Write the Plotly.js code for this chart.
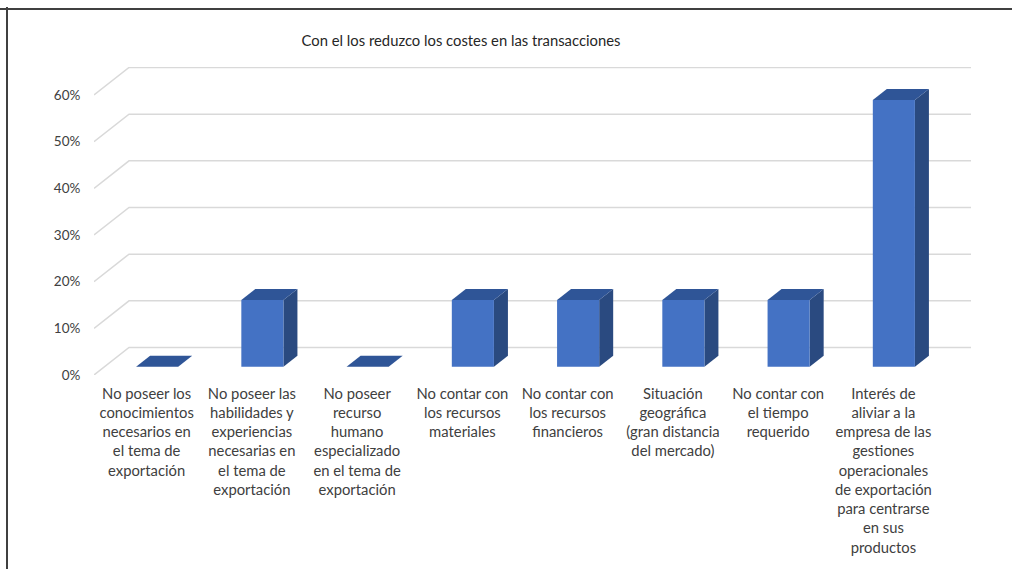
<!DOCTYPE html>
<html>
<head>
<meta charset="utf-8">
<script src="https://cdn.plot.ly/plotly-3.0.1.min.js"></script>
<style>html,body{margin:0;padding:0;background:#fff;}#chart{width:1012px;height:569px;}</style>
</head>
<body>
<div id="chart"></div>
<script>
// ---- data ----
const chartTitle = "Con el los reduzco los costes en las transacciones";
const categories = [
  "No poseer los<br>conocimientos<br>necesarios en<br>el tema de<br>exportación",
  "No poseer las<br>habilidades y<br>experiencias<br>necesarias en<br>el tema de<br>exportación",
  "No poseer<br>recurso<br>humano<br>especializado<br>en el tema de<br>exportación",
  "No contar con<br>los recursos<br>materiales",
  "No contar con<br>los recursos<br>financieros",
  "Situación<br>geográfica<br>(gran distancia<br>del mercado)",
  "No contar con<br>el tiempo<br>requerido",
  "Interés de<br>aliviar a la<br>empresa de las<br>gestiones<br>operacionales<br>de exportación<br>para centrarse<br>en sus<br>productos"
];
const values = [0, 0.1429, 0, 0.1429, 0.1429, 0.1429, 0.1429, 0.5714];
const yTickVals = [0, 0.1, 0.2, 0.3, 0.4, 0.5, 0.6];
const yTickText = ["0%", "10%", "20%", "30%", "40%", "50%", "60%"];

// ---- 3D look (styles / geometry constants) ----
const DX = 0.3327;   // depth offset in category units
const DY = 0.059;    // depth offset in value units
const F0 = 0.3, F1 = 0.7; // bar front / back depth fractions
const HW = 0.2;      // half bar width
const cFront = "#4472C4", cTop = "#2F5597", cSide = "#2A4A80", cGrid = "#D9D9D9";

const xs = categories.map((c, i) => i);
const shapes = [];
// perspective gridlines
yTickVals.forEach(v => {
  shapes.push({type: "path", xref: "x", yref: "y", layer: "below",
    path: `M ${-0.5},${v} L ${-0.5 + DX},${v + DY} L ${xs.length - 0.5 + DX},${v + DY}`,
    line: {color: cGrid, width: 1.5}});
});
// side and top faces
values.forEach((v, i) => {
  const xlf = i + F0 * DX - HW, xrf = i + F0 * DX + HW;
  const xlb = i + F1 * DX - HW, xrb = i + F1 * DX + HW;
  const yb0 = F0 * DY, yb1 = F1 * DY;
  const yt0 = v + F0 * DY, yt1 = v + F1 * DY;
  if (v > 0) {
    shapes.push({type: "path", xref: "x", yref: "y", layer: "below",
      path: `M ${xrf},${yb0} L ${xrf},${yt0} L ${xrb},${yt1} L ${xrb},${yb1} Z`,
      fillcolor: cSide, line: {width: 0}});
  }
  shapes.push({type: "path", xref: "x", yref: "y", layer: "below",
    path: `M ${xlf},${yt0} L ${xrf},${yt0} L ${xrb},${yt1} L ${xlb},${yt1} Z`,
    fillcolor: cTop, line: {width: 0}});
});
// chart-area border (top and left edges)
shapes.push({type: "line", xref: "paper", yref: "paper", x0: -94/877, x1: 1.1, y0: 1 + 58/308, y1: 1 + 58/308,
  line: {color: "#404040", width: 2}});
shapes.push({type: "line", xref: "paper", yref: "paper", x0: -87/877, x1: -87/877, y0: 1 + 60/308, y1: -1,
  line: {color: "#404040", width: 2}});

const trace = {
  type: "bar",
  x: xs.map(i => i + F0 * DX),
  y: values,
  base: values.map(() => F0 * DY),
  width: 2 * HW,
  marker: {color: cFront, line: {width: 0}},
  hoverinfo: "skip"
};

const layout = {
  width: 1012, height: 569,
  margin: {l: 94, r: 41, t: 67, b: 194},
  paper_bgcolor: "#ffffff", plot_bgcolor: "rgba(0,0,0,0)",
  font: {family: "Lato, 'Open Sans', sans-serif", color: "#404040"},
  showlegend: false,
  title: {text: chartTitle, font: {size: 14.8, color: "#262626"},
    xref: "container", yref: "container", x: 461/1012, xanchor: "center", y: 1 - 41/569, yanchor: "middle"},
  xaxis: {range: [-0.5, xs.length - 0.5 + DX], tickmode: "array", tickvals: xs, ticktext: categories,
    showgrid: false, zeroline: false, showline: false, ticks: "outside", ticklen: 5, tickcolor: "rgba(0,0,0,0)",
    tickfont: {size: 14.8, color: "#404040"}, fixedrange: true},
  yaxis: {range: [0, 0.66], tickmode: "array", tickvals: yTickVals, ticktext: yTickText,
    showgrid: false, zeroline: false, showline: false, ticks: "outside", ticklen: 10, tickcolor: "rgba(0,0,0,0)",
    tickfont: {size: 13.5, color: "#404040"}, fixedrange: true},
  shapes: shapes
};

Plotly.newPlot("chart", [trace], layout, {displayModeBar: false, staticPlot: true});
</script>
</body>
</html>
